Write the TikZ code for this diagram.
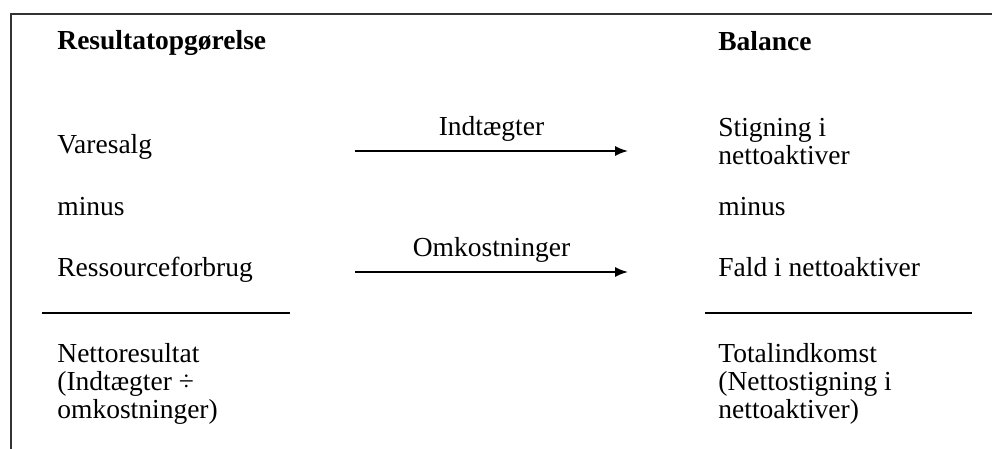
\documentclass[tikz,border=0pt]{standalone}
\usepackage{fontspec}
\setmainfont{Liberation Serif}
\usetikzlibrary{arrows.meta, positioning}

\begin{document}
\begin{tikzpicture}[
            x=0.5pt, y=-0.5pt,
            txt/.style={anchor=base west, inner sep=0pt, align=left, font=\fontsize{13.75}{14}\selectfont},
            head/.style={txt, font=\fontsize{13.75}{14}\selectfont\bfseries},
            flow/.style={draw, thick, -{Latex[length=6.5pt, width=5pt]}},
            flowlabel/.style={font=\fontsize{13.75}{14}\selectfont, above=1pt},
            rule/.style={draw, line width=1pt}
        ]
            \useasboundingbox (0,0) rectangle (992,449);

            % Frame
            \draw[line width=0.9pt, black!80] (11,449) -- (11,14) -- (992,14);

            % Income statement column
            \node[head] (res) at (57,50) {Resultatopgørelse};
            \node[txt] (sales) at (57,154) {Varesalg};
            \node[txt] (minusL) at (57,216) {minus};
            \node[txt] (usage) at (57,277) {Ressourceforbrug};
            \node[txt] (netres) at (57,418) {Nettoresultat\\(Indtægter ÷\\omkostninger)};

            % Balance column
            \node[head] (bal) at (718,51) {Balance};
            \node[txt] (rise) at (718,165) {Stigning i\\nettoaktiver};
            \node[txt] (minusR) at (718,216) {minus};
            \node[txt] (fall) at (718,277) {Fald i nettoaktiver};
            \node[txt] (total) at (718,418) {Totalindkomst\\(Nettostigning i\\nettoaktiver)};

            % Arrow ends
            \coordinate (inA) at (355,151);
            \coordinate (inB) at (628,151);
            \coordinate (outA) at (355,272);
            \coordinate (outB) at (628,272);

            % Arrows
            \draw[flow] (inA) -- (inB) node[midway, flowlabel] {Indtægter};
            \draw[flow] (outA) -- (outB) node[midway, flowlabel] {Omkostninger};

            % Sum lines
            \coordinate (ruleLA) at (42,313);
            \coordinate (ruleLB) at (290,313);
            \coordinate (ruleRA) at (705,313);
            \coordinate (ruleRB) at (972,313);
            \draw[rule] (ruleLA) -- (ruleLB);
            \draw[rule] (ruleRA) -- (ruleRB);

        \end{tikzpicture}
\end{document}
